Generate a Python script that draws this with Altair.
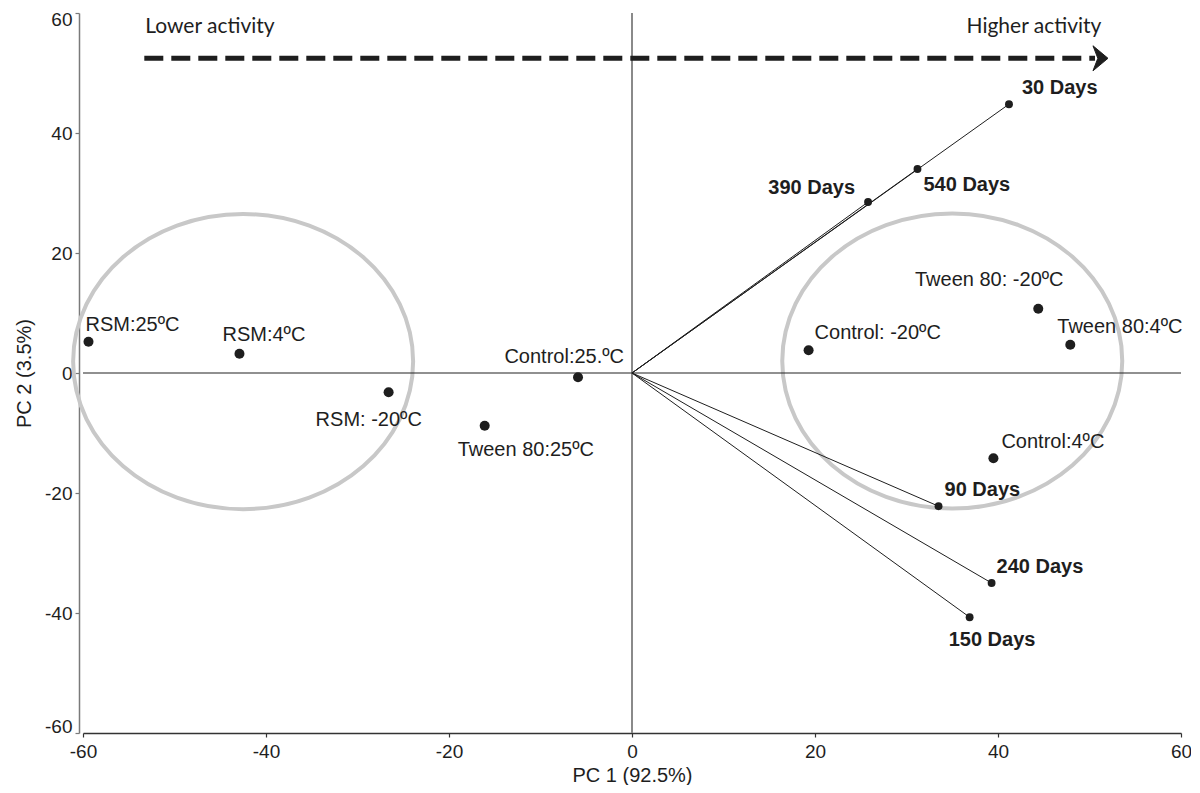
import altair as alt
import pandas as pd

# ---------------- data ----------------
sample_names = ["RSM:25ºC", "RSM:4ºC", "RSM: -20ºC", "Tween 80:25ºC", "Control:25.ºC",
                "Control: -20ºC", "Tween 80: -20ºC", "Tween 80:4ºC", "Control:4ºC"]
sample_pc1 = [-59.4, -42.9, -26.6, -16.1, -5.9, 19.3, 44.4, 47.9, 39.5]
sample_pc2 = [5.2, 3.2, -3.2, -8.8, -0.7, 3.8, 10.7, 4.7, -14.2]

day_names = ["30 Days", "540 Days", "390 Days", "90 Days", "240 Days", "150 Days"]
day_pc1 = [41.2, 31.2, 25.8, 33.5, 39.3, 36.9]
day_pc2 = [44.8, 34.0, 28.5, -22.2, -35.0, -40.7]

group_names = ["Lower", "Higher"]
group_pc1 = [-42.5, 35.0]
group_pc2 = [1.9, 2.0]

arrow_pc1 = [-53.3, 50.6]
arrow_pc2 = [52.45, 52.45]
arrow_head = [51.2]

annot_text = ["Lower activity", "Higher activity"]
annot_pc1 = [-53.2, 51.3]
annot_pc2 = [56.7, 56.7]

axis_ticks = [-60, -40, -20, 0, 20, 40, 60]

# ---------------- label styling (pixel offsets) ----------------
sample_dx = [-3, -17, -73, -27, 46, 6, -49, -13, 8]
sample_dy = [-17, -19, 28, 24, -20, -17, -29, -18, -16]
sample_align = ["left", "left", "left", "left", "right", "left", "center", "left", "left"]

day_dx = [13, 6, -13, 6, 5, -21]
day_dy = [-16, 16, -14, -16, -16, 23]
day_align = ["left", "left", "right", "left", "left", "left"]

FONT = "Liberation Sans, Arial, Helvetica, sans-serif"
INK = "#1e1e1e"

samples = pd.DataFrame({"name": sample_names, "x": sample_pc1, "y": sample_pc2})
days = pd.DataFrame({"name": day_names, "x": day_pc1, "y": day_pc2})
groups = pd.DataFrame({"name": group_names, "x": group_pc1, "y": group_pc2})
arrow = pd.DataFrame({"x": arrow_pc1, "y": arrow_pc2})
head = pd.DataFrame({"x": arrow_head, "y": [arrow_pc2[0]]})
annots = pd.DataFrame({"t": annot_text, "x": annot_pc1, "y": annot_pc2})

xs = alt.Scale(domain=[-60, 60], nice=False, zero=False)
ys = alt.Scale(domain=[-60, 60], nice=False, zero=False)

LBL = "'' + datum.value"

X = alt.X("x:Q", scale=xs, title="PC 1 (92.5%)",
          axis=alt.Axis(values=axis_ticks, grid=False, domainColor="#333333", tickColor="#333333",
                        tickSize=4, labelPadding=5, titlePadding=4, labelFlush=False,
                        labelExpr=LBL))
Y = alt.Y("y:Q", scale=ys, title="PC 2 (3.5%)",
          axis=alt.Axis(values=axis_ticks, grid=False, domainColor="#7a7a7a", tickColor="#7a7a7a",
                        tickSize=4, labelPadding=3, titlePadding=10, offset=4,
                        labelFlush=True, labelFlushOffset=3, labelExpr=LBL))

base_x = alt.X("x:Q", scale=xs)
base_y = alt.Y("y:Q", scale=ys)

# zero lines
vzero = alt.Chart(pd.DataFrame({"v": [0]})).mark_rule(color="#8a8a8a", strokeWidth=2).encode(
    x=alt.X("v:Q", scale=xs))
hzero = alt.Chart(pd.DataFrame({"v": [0]})).mark_rule(color="#222222", strokeWidth=1.2).encode(
    y=alt.Y("v:Q", scale=ys))

# ellipses as custom symbol
ellipse_path = "M -1 0 A 1 0.868 0 1 0 1 0 A 1 0.868 0 1 0 -1 0 Z"
ellipses = alt.Chart(groups).mark_point(
    shape=ellipse_path, size=340 * 340, filled=False, stroke="#c8c8c8", strokeWidth=4, opacity=1
).encode(x=base_x, y=base_y)

# loading lines from origin
loadings = alt.Chart(days).transform_calculate(o="0").mark_rule(color=INK, strokeWidth=1).encode(
    x=base_x, y=base_y, x2=alt.X2("o:Q"), y2=alt.Y2("o:Q"))

# dashed arrow
arrow_line = alt.Chart(arrow).mark_line(color=INK, strokeWidth=5, strokeDash=[19, 8]).encode(
    x=base_x, y=base_y)
arrow_tip = alt.Chart(head).mark_point(
    shape="M -1 -1.67 L 1 0 L -1 1.67 L -0.35 0 Z", size=225, filled=True, fill=INK,
    stroke=INK, strokeWidth=1, opacity=1
).encode(x=base_x, y=base_y)

annot_layers = []
for i, t in enumerate(annot_text):
    annot_layers.append(
        alt.Chart(annots.iloc[[i]]).mark_text(
            font="Lato", fontSize=21, color=INK, baseline="alphabetic",
            align="left" if i == 0 else "right"
        ).encode(x=base_x, y=base_y, text="t:N"))

sample_pts = alt.Chart(samples).mark_circle(size=100, color=INK, opacity=1).encode(x=X, y=Y)
day_pts = alt.Chart(days).mark_circle(size=62, color=INK, opacity=1).encode(x=base_x, y=base_y)

label_layers = []
for i in range(len(sample_names)):
    label_layers.append(
        alt.Chart(samples.iloc[[i]]).mark_text(
            font=FONT, fontSize=20, color=INK, align=sample_align[i], baseline="middle",
            dx=sample_dx[i], dy=sample_dy[i]
        ).encode(x=base_x, y=base_y, text="name:N"))
for i in range(len(day_names)):
    label_layers.append(
        alt.Chart(days.iloc[[i]]).mark_text(
            font=FONT, fontSize=20, fontWeight="bold", color=INK, align=day_align[i],
            baseline="middle", dx=day_dx[i], dy=day_dy[i]
        ).encode(x=base_x, y=base_y, text="name:N"))

chart = alt.layer(
    sample_pts, ellipses, vzero, hzero, loadings, arrow_line, arrow_tip,
    *annot_layers, day_pts, *label_layers
).properties(
    width=1098, height=720,
    autosize=alt.AutoSizeParams(type="none"),
    padding={"left": 75, "top": 5, "right": 10, "bottom": 52},
).configure_view(stroke=None).configure_axis(
    labelFont=FONT, labelFontSize=19, labelColor=INK,
    titleFont=FONT, titleFontSize=20, titleColor=INK, titleFontWeight="normal",
    domainWidth=1.5, tickWidth=1.2
)

chart.save("out.html", embed_options={"renderer": "svg", "actions": False})
